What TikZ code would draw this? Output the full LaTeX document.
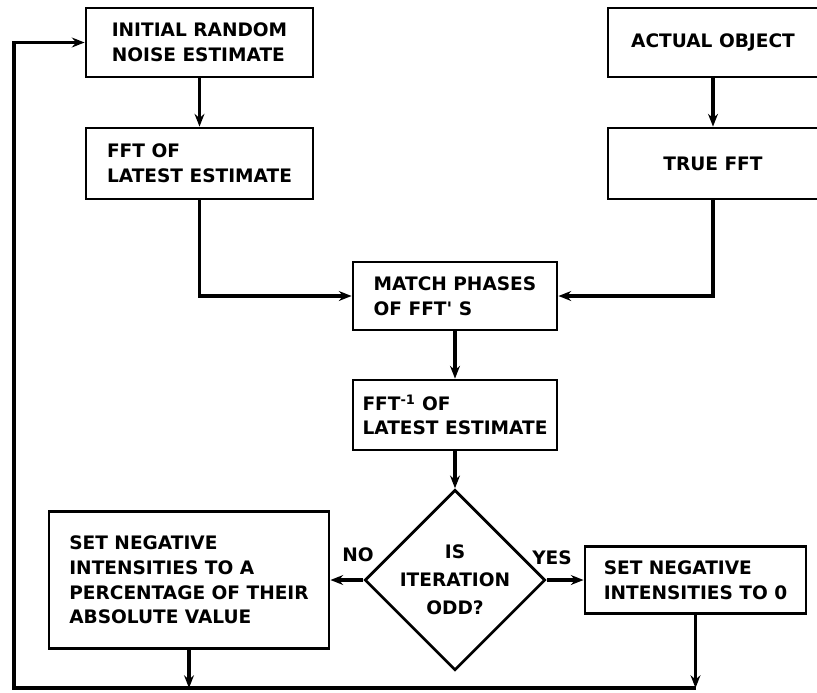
\documentclass[tikz,border=0pt]{standalone}
\usepackage{fontspec}
\setmainfont{DejaVu Sans}
\usetikzlibrary{shapes.geometric,arrows.meta}
\begin{document}
\begin{tikzpicture}[
  x=0.025cm, y=-0.025cm,
  box/.style={rectangle, draw, line width=2pt, align=left, inner sep=0pt, font=\bfseries\fontsize{13.2}{17.5}\selectfont},
  decision/.style={diamond, draw, line width=2pt, align=center, inner sep=0pt, minimum width=3.8cm, minimum height=3.75cm, font=\bfseries\fontsize{13.2}{20}\selectfont},
  tag/.style={font=\bfseries\fontsize{13.2}{15}\selectfont},
  arrow/.style={-{Stealth[length=9pt,width=7pt]}, line width=2.6pt}
]
  \useasboundingbox (0,0) rectangle (817,692);

  % Starting estimate and its transform (left column)
  \node[box, minimum width=5.675cm, minimum height=1.725cm] (noise) at (199.5,42.5) {INITIAL RANDOM\\NOISE ESTIMATE};
  \node[box, minimum width=5.675cm, minimum height=1.775cm] (fftest) at (199.5,163.5) {FFT OF\\LATEST ESTIMATE};

  % Known object and its transform (right column)
  \node[box, align=center, minimum width=5.25cm, minimum height=1.725cm] (actual) at (713,42.5) {ACTUAL OBJECT};
  \node[box, align=center, minimum width=5.25cm, minimum height=1.775cm] (truefft) at (713,163.5) {TRUE FFT};

  % Phase matching and inverse transform
  \node[box, minimum width=5.1cm, minimum height=1.7cm] (match) at (455,296) {MATCH PHASES\\OF FFT\textquotesingle\ S};
  \node[box, minimum width=5.1cm, minimum height=1.75cm] (inv) at (455,415) {FFT\textsuperscript{-1} OF\\LATEST ESTIMATE};

  % Decision and the two constraint steps
  \node[decision] (odd) at (455,580) {IS\\ITERATION\\ODD?};
  \node[box, minimum width=7cm, minimum height=3.425cm] (negpct) at (189,580) {SET NEGATIVE\\INTENSITIES TO A\\PERCENTAGE OF THEIR\\ABSOLUTE VALUE};
  \node[box, minimum width=5.525cm, minimum height=1.675cm] (negzero) at (695.5,580) {SET NEGATIVE\\INTENSITIES TO 0};

  % Branch labels
  \node[tag] (no) at (358,555) {NO};
  \node[tag] (yes) at (552,558) {YES};

  % Return path along the bottom and left side
  \coordinate (bot) at (14,688);

  % Arrows down the columns
  \draw[arrow] (noise.south) -- (fftest.north);
  \draw[arrow] (actual.south) -- (truefft.north);
  \draw[arrow] (fftest.south) |- (match.west);
  \draw[arrow] (truefft.south) |- (match.east);
  \draw[arrow] (match.south) -- (inv.north);
  \draw[arrow] (inv.south) -- (odd.north);

  % Decision branches
  \draw[arrow] (odd.west) -- (negpct.east);
  \draw[arrow] (odd.east) -- (negzero.west);

  % Feedback loop to the next iteration
  \draw[arrow] (negpct.south) -- (negpct.south |- bot);
  \draw[arrow] (negzero.south) -- (negzero.south |- bot);
  \draw[arrow] (negzero.south |- bot) -- (bot) |- (noise.west);
\end{tikzpicture}
\end{document}
